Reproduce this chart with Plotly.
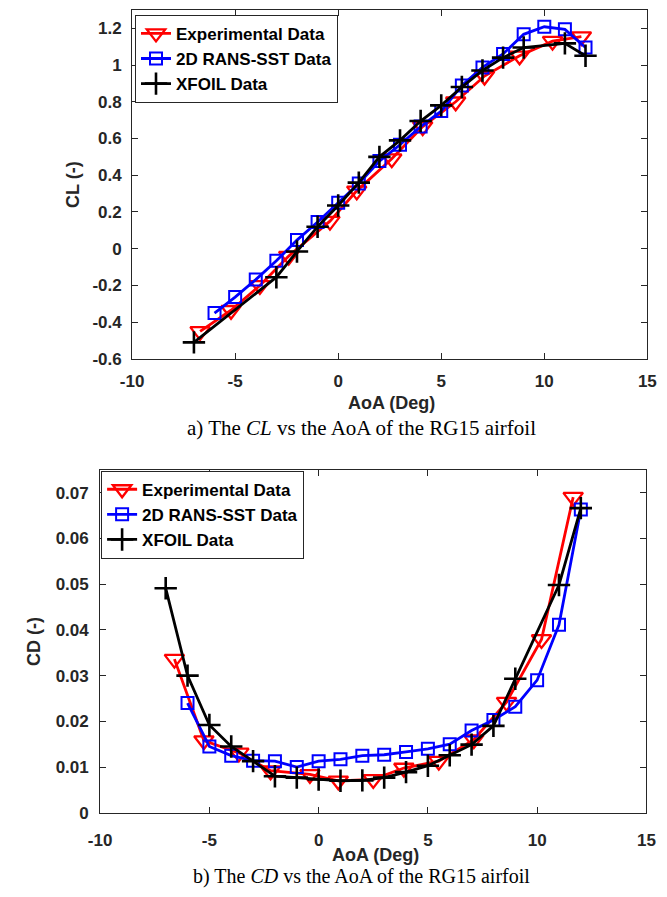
import plotly.graph_objects as go

# ---------------- data ----------------
# CL plot
xfoil_cl_aoa = [-7, -3, -2, -1, 0, 1, 2, 3, 4, 5, 6, 7, 8, 9, 11, 12]
xfoil_cl = [-0.51, -0.155, -0.015, 0.12, 0.235, 0.36, 0.50, 0.59, 0.695, 0.78, 0.88, 0.97, 1.04, 1.095, 1.118, 1.05]

rans_cl_aoa = [-6, -5, -4, -3, -2, -1, 0, 1, 2, 3, 4, 5, 6, 7, 8, 9, 10, 11, 12]
rans_cl = [-0.35, -0.263, -0.168, -0.066, 0.047, 0.145, 0.25, 0.355, 0.477, 0.566, 0.665, 0.749, 0.889, 0.987, 1.06, 1.167, 1.208, 1.194, 1.095]

exp_cl_aoa = [-6.7, -5.2, -3.8, -2.4, -0.4, 0.9, 2.6, 4.1, 5.7, 7.1, 8.8, 10.4, 11.8]
exp_cl = [-0.45, -0.335, -0.2, -0.04, 0.15, 0.315, 0.49, 0.665, 0.80, 0.94, 1.05, 1.13, 1.155]

# CD plot
xfoil_cd_aoa = [-7, -6, -5, -4, -3, -2, -1, 0, 1, 2, 3, 4, 5, 6, 7, 8, 9, 11, 12]
xfoil_cd = [0.0491, 0.030, 0.0192, 0.0145, 0.0113, 0.0080, 0.0077, 0.0073, 0.0070, 0.0071, 0.0077, 0.0089, 0.0103, 0.0126, 0.0149, 0.019, 0.0293, 0.0498, 0.0666]

rans_cd_aoa = [-6, -5, -4, -3, -2, -1, 0, 1, 2, 3, 4, 5, 6, 7, 8, 9, 10, 11, 12]
rans_cd = [0.024, 0.0145, 0.0125, 0.0114, 0.0113, 0.0100, 0.0113, 0.0117, 0.0125, 0.0127, 0.0133, 0.014, 0.015, 0.018, 0.0203, 0.0232, 0.029, 0.0411, 0.0663]

exp_cd_aoa = [-6.6, -5.25, -3.65, -2.2, -0.4, 0.9, 2.5, 3.9, 5.5, 7.1, 8.6, 10.2, 11.65]
exp_cd = [0.0336, 0.0158, 0.0131, 0.0092, 0.0084, 0.0070, 0.0073, 0.0098, 0.0113, 0.016, 0.0242, 0.0379, 0.069]

series_names = ["Experimental Data", "2D RANS-SST Data", "XFOIL Data"]

x_ticks = [-10, -5, 0, 5, 10, 15]
x_ticklabels = ["-10", "-5", "0", "5", "10", "15"]
cl_ticks = [-0.6, -0.4, -0.2, 0, 0.2, 0.4, 0.6, 0.8, 1.0, 1.2]
cl_ticklabels = ["-0.6", "-0.4", "-0.2", "0", "0.2", "0.4", "0.6", "0.8", "1", "1.2"]
cd_ticks = [0, 0.01, 0.02, 0.03, 0.04, 0.05, 0.06, 0.07]
cd_ticklabels = ["0", "0.01", "0.02", "0.03", "0.04", "0.05", "0.06", "0.07"]

# ---------------- layout helpers ----------------
W, H = 667, 897
def px_x(p):
    return p / W
def px_y(p):
    return 1 - p / H

FONT = "Liberation Sans, Arial, sans-serif"
SERIF = "Liberation Serif, Times New Roman, serif"
AX = "#262626"

RED, BLUE, BLACK = "#ff0000", "#0000ff", "#000000"
LW = 2.8

fig = go.Figure()

def add_series(xa, ya, legend, data):
    (ex, ey), (rx, ry), (fx, fy) = data
    fig.add_trace(go.Scatter(x=ex, y=ey, name=series_names[0], mode="lines+markers",
                             line=dict(color=RED, width=LW),
                             marker=dict(symbol="triangle-down-open", size=17, color=RED, line=dict(width=2.3, color=RED)),
                             xaxis=xa, yaxis=ya, legend=legend))
    fig.add_trace(go.Scatter(x=rx, y=ry, name=series_names[1], mode="lines+markers",
                             line=dict(color=BLUE, width=LW),
                             marker=dict(symbol="square-open", size=12, color=BLUE, line=dict(width=2, color=BLUE)),
                             xaxis=xa, yaxis=ya, legend=legend))
    fig.add_trace(go.Scatter(x=fx, y=fy, name=series_names[2], mode="lines+markers",
                             line=dict(color=BLACK, width=LW),
                             marker=dict(symbol="cross-thin-open", size=16, color=BLACK, line=dict(width=2.6, color=BLACK)),
                             xaxis=xa, yaxis=ya, legend=legend))

add_series("x", "y", "legend", [(exp_cl_aoa, exp_cl), (rans_cl_aoa, rans_cl), (xfoil_cl_aoa, xfoil_cl)])
add_series("x2", "y2", "legend2", [(exp_cd_aoa, exp_cd), (rans_cd_aoa, rans_cd), (xfoil_cd_aoa, xfoil_cd)])

tickfont = dict(family=FONT, size=17, color=AX, weight="bold")
axis_common = dict(showline=True, linecolor=AX, linewidth=1, mirror="ticks", ticks="inside",
                   ticklen=6, tickcolor=AX, showgrid=False, zeroline=False, tickfont=tickfont)

legend_font = dict(family=FONT, size=17, color="#000000", weight="bold")

# top plot area: x 124..656, y 10..363 ; bottom: x 91..655, y 475..822
fig.update_layout(
    width=W, height=H, margin=dict(l=0, r=0, t=0, b=0),
    paper_bgcolor="white", plot_bgcolor="white",
    xaxis=dict(domain=[px_x(124), px_x(656)], range=[-10, 15], tickvals=x_ticks, ticktext=x_ticklabels,
               anchor="y", ticklabelstandoff=7, **axis_common),
    yaxis=dict(domain=[px_y(363), px_y(10)], range=[-0.6, 1.3], tickvals=cl_ticks, ticktext=cl_ticklabels,
               anchor="x", ticklabelstandoff=6, **axis_common),
    xaxis2=dict(domain=[px_x(91), px_x(655)], range=[-10, 15], tickvals=x_ticks, ticktext=x_ticklabels,
                anchor="y2", ticklabelstandoff=12, **axis_common),
    yaxis2=dict(domain=[px_y(822), px_y(475)], range=[0, 0.075], tickvals=cd_ticks, ticktext=cd_ticklabels,
                anchor="x2", ticklabelstandoff=7, **axis_common),
    legend=dict(x=px_x(127), y=px_y(15), xanchor="left", yanchor="top",
                bgcolor="white", bordercolor=AX, borderwidth=1,
                font=legend_font, tracegroupgap=0, itemsizing="trace"),
    legend2=dict(x=px_x(92), y=px_y(476), xanchor="left", yanchor="top",
                 bgcolor="white", bordercolor=AX, borderwidth=1,
                 font=legend_font, tracegroupgap=0, itemsizing="trace"),
    showlegend=True,
)

title_font = dict(family=FONT, size=18, color=AX, weight="bold")
ann = [
    dict(text="AoA (Deg)", x=px_x(392), y=px_y(408), font=title_font),
    dict(text="CL (-)", x=px_x(63), y=px_y(187), font=title_font, textangle=-90),
    dict(text="a) The <i>CL</i> vs the AoA of the RG15 airfoil", x=px_x(361), y=px_y(433),
         font=dict(family=SERIF, size=21, color="#000000")),
    dict(text="AoA (Deg)", x=px_x(375), y=px_y(865), font=title_font),
    dict(text="CD (-)", x=px_x(22), y=px_y(649), font=title_font, textangle=-90),
    dict(text="b) The <i>CD</i> vs the AoA of the RG15 airfoil", x=px_x(361), y=px_y(886),
         font=dict(family=SERIF, size=20, color="#000000")),
]
for a in ann:
    a.update(xref="paper", yref="paper", showarrow=False, xanchor="center", yanchor="middle")
fig.update_layout(annotations=ann)

fig.write_html("out.html")
